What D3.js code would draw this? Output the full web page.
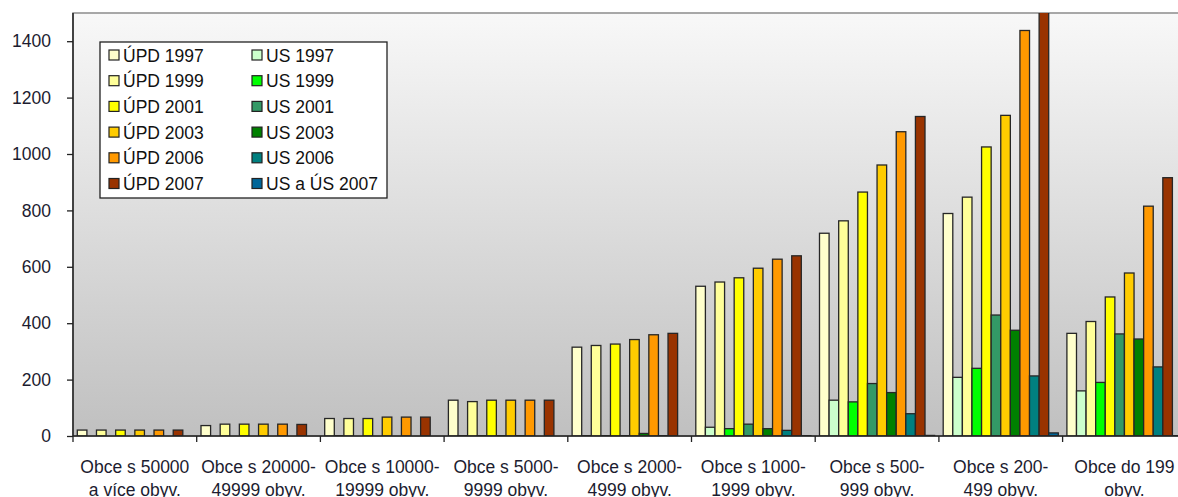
<!DOCTYPE html>
<html>
<head>
<meta charset="utf-8">
<script src="https://cdn.jsdelivr.net/npm/d3@7"></script>
<style>
  html, body { margin: 0; padding: 0; background: #fff; overflow: hidden; }
  svg { display: block; font-family: "Liberation Sans", Arial, sans-serif; }
</style>
</head>
<body>
<svg id="chart" width="1178" height="497"></svg>
<script>
// ---- data ----
const categories = [
  ["Obce s 50000", "a více obyv."],
  ["Obce s 20000-", "49999 obyv."],
  ["Obce s 10000-", "19999 obyv."],
  ["Obce s 5000-", "9999 obyv."],
  ["Obce s 2000-", "4999 obyv."],
  ["Obce s 1000-", "1999 obyv."],
  ["Obce s 500-", "999 obyv."],
  ["Obce s 200-", "499 obyv."],
  ["Obce do 199", "obyv."]
];
const seriesNames = ["ÚPD 1997","US 1997","ÚPD 1999","US 1999","ÚPD 2001","US 2001",
                     "ÚPD 2003","US 2003","ÚPD 2006","US 2006","ÚPD 2007","US a ÚS 2007"];
const seriesColors = ["#FFFFCC","#CCFFCC","#FFFF99","#00FF00","#FFFF00","#339966",
                      "#FFCC00","#008000","#FF9900","#008080","#993300","#006699"];
const upd1997 = [21, 37, 62, 127, 315, 531, 719, 789, 364];
const us1997  = [0, 0, 1, 1, 1, 31, 127, 208, 160];
const upd1999 = [21, 42, 62, 122, 321, 546, 763, 847, 406];
const us1999  = [0, 0, 0, 1, 1, 26, 121, 240, 190];
const upd2001 = [21, 42, 62, 127, 326, 561, 865, 1025, 493];
const us2001  = [0, 0, 0, 1, 1, 42, 186, 429, 362];
const upd2003 = [21, 42, 67, 127, 342, 595, 961, 1137, 578];
const us2003  = [0, 0, 0, 1, 9, 26, 154, 375, 344];
const upd2006 = [21, 42, 67, 127, 359, 627, 1079, 1438, 815];
const us2006  = [0, 0, 0, 0, 1, 20, 79, 213, 245];
const upd2007 = [21, 41, 67, 127, 364, 639, 1133, 1520, 916];
const us2007  = [0, 0, 0, 0, 0, 1, 2, 11, 1];
const yTicks = [0, 200, 400, 600, 800, 1000, 1200, 1400];
const yMax = 1500;

const seriesValues = [upd1997, us1997, upd1999, us1999, upd2001, us2001,
                      upd2003, us2003, upd2006, us2006, upd2007, us2007];

(function () {
// ---- layout ----
const svg = d3.select("#chart");
const pLeft = 73, pTop = 13, pBottom = 436;
const catW = 123.7;
const pRight = pLeft + catW * categories.length;

const x0 = d3.scaleBand().domain(d3.range(categories.length)).range([pLeft, pRight]).padding(0);
const gap = 4.3;
const x1 = d3.scaleBand().domain(d3.range(seriesNames.length)).range([gap, x0.bandwidth() - gap]).padding(0);
const y = d3.scaleLinear().domain([0, yMax]).range([pBottom, pTop]);

const defs = svg.append("defs");
const grad = defs.append("linearGradient").attr("id", "bg").attr("x1", 0).attr("y1", 0).attr("x2", 0).attr("y2", 1);
grad.append("stop").attr("offset", "0%").attr("stop-color", "#f8f8f8");
grad.append("stop").attr("offset", "100%").attr("stop-color", "#c0c0c0");
defs.append("clipPath").attr("id", "plotclip").append("rect")
  .attr("x", pLeft).attr("y", pTop).attr("width", pRight - pLeft).attr("height", pBottom - pTop);

// plot area
svg.append("rect").attr("x", pLeft).attr("y", pTop).attr("width", pRight - pLeft).attr("height", pBottom - pTop)
  .attr("fill", "url(#bg)").attr("stroke", "#8c8c8c").attr("stroke-width", 1.5);

// bars
const barData = [];
categories.forEach((c, ci) => {
  seriesValues.forEach((vals, si) => {
    barData.push({ci, si, v: vals[ci]});
  });
});
svg.append("g").attr("clip-path", "url(#plotclip)")
  .selectAll("rect").data(barData.filter(d => d.v > 0)).join("rect")
  .attr("x", d => x0(d.ci) + x1(d.si))
  .attr("width", x1.bandwidth())
  .attr("y", d => y(d.v))
  .attr("height", d => pBottom - y(d.v))
  .attr("fill", d => seriesColors[d.si])
  .attr("stroke", "#262626")
  .attr("stroke-width", 1.3);

// y axis
const yAxis = d3.axisLeft(y).tickValues(yTicks).tickSize(6).tickPadding(16).tickFormat(d3.format("d"));
const gy = svg.append("g").attr("transform", `translate(${pLeft},0)`).call(yAxis);
gy.select(".domain").attr("stroke", "#222").attr("stroke-width", 1.5).attr("d", `M0,${pTop}V${pBottom}`);
gy.selectAll(".tick line").attr("stroke", "#222").attr("stroke-width", 1.3);
gy.selectAll(".tick text").attr("font-size", "17.5px").attr("fill", "#1c1c30")
  .attr("font-family", "'Liberation Sans', Arial, sans-serif");

// x axis
svg.append("line").attr("x1", pLeft).attr("x2", pRight).attr("y1", pBottom).attr("y2", pBottom)
  .attr("stroke", "#222").attr("stroke-width", 1.5);
const bounds = d3.range(categories.length + 1).map(i => i < categories.length ? x0(i) : pRight);
svg.selectAll(".xtick").data(bounds).join("line")
  .attr("x1", d => d).attr("x2", d => d).attr("y1", pBottom).attr("y2", pBottom + 6)
  .attr("stroke", "#222").attr("stroke-width", 1.3);

const labels = svg.append("g");
categories.forEach((c, ci) => {
  const cx = x0(ci) + x0.bandwidth() / 2;
  const t = labels.append("text")
    .attr("text-anchor", "middle")
    .attr("font-size", "17.5px")
    .attr("fill", "#1c1c30");
  t.append("tspan").attr("x", cx).attr("y", 473).text(c[0]);
  t.append("tspan").attr("x", cx).attr("y", 496).text(c[1]);
});

// legend
const lg = svg.append("g");
lg.append("rect").attr("x", 100).attr("y", 42).attr("width", 287).attr("height", 156)
  .attr("fill", "#fff").attr("stroke", "#222").attr("stroke-width", 1.3);
seriesNames.forEach((name, i) => {
  const col = i % 2, row = Math.floor(i / 2);
  const sx = col === 0 ? 109 : 252;
  const cy = 55 + row * 25.7;
  lg.append("rect").attr("x", sx).attr("y", cy - 5).attr("width", 10).attr("height", 10)
    .attr("fill", seriesColors[i]).attr("stroke", "#222").attr("stroke-width", 1.2);
  lg.append("text").attr("x", sx + 14).attr("y", cy + 6.5)
    .attr("font-size", "17.5px").attr("fill", "#111").text(name);
});
})();
</script>
</body>
</html>
